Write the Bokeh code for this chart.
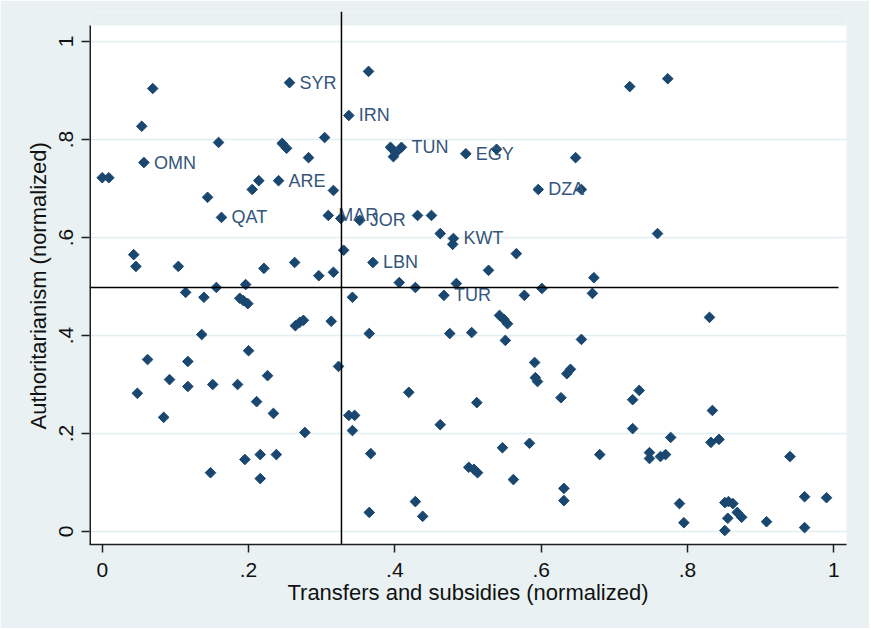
import math
from bokeh.plotting import figure
from bokeh.models import ColumnDataSource, FixedTicker, Range1d, Title
from bokeh.core.properties import value
from bokeh.embed import file_html
from bokeh.resources import INLINE

# ---------------- data ----------------
mena_code = ["OMN", "QAT", "ARE", "SYR", "IRN", "TUN", "EGY", "DZA", "MAR", "JOR", "KWT", "LBN", "TUR"]
mena_x = [0.057, 0.163, 0.241, 0.256, 0.337, 0.409, 0.497, 0.596, 0.309, 0.352, 0.480, 0.370, 0.467]
mena_y = [0.753, 0.641, 0.716, 0.916, 0.849, 0.784, 0.771, 0.698, 0.645, 0.635, 0.598, 0.549, 0.482]

other_x = [0.000, 0.009, 0.054, 0.069, 0.159, 0.144, 0.205, 0.214, 0.246, 0.252,
           0.364, 0.304, 0.282, 0.316, 0.394, 0.401, 0.398, 0.539, 0.647, 0.655,
           0.721, 0.773, 0.043, 0.046, 0.104, 0.114, 0.139, 0.156, 0.188, 0.193,
           0.199, 0.196, 0.221, 0.263, 0.326, 0.431, 0.450, 0.462, 0.479, 0.566,
           0.330, 0.296, 0.316, 0.528, 0.406, 0.428, 0.484, 0.577, 0.601, 0.342,
           0.264, 0.270, 0.275, 0.313, 0.365, 0.475, 0.505, 0.543, 0.549, 0.554,
           0.551, 0.655, 0.323, 0.591, 0.592, 0.595, 0.635, 0.640, 0.419, 0.512,
           0.627, 0.337, 0.345, 0.759, 0.672, 0.670, 0.830, 0.734, 0.725, 0.834,
           0.136, 0.062, 0.117, 0.200, 0.092, 0.117, 0.151, 0.185, 0.226, 0.048,
           0.211, 0.234, 0.084, 0.148, 0.195, 0.216, 0.238, 0.216, 0.277, 0.342,
           0.367, 0.365, 0.428, 0.438, 0.462, 0.501, 0.508, 0.513, 0.547, 0.584,
           0.562, 0.631, 0.631, 0.725, 0.680, 0.748, 0.748, 0.763, 0.770, 0.777,
           0.832, 0.843, 0.940, 0.789, 0.795, 0.851, 0.856, 0.862, 0.868, 0.874,
           0.855, 0.851, 0.908, 0.960, 0.990, 0.960]
other_y = [0.722, 0.722, 0.827, 0.904, 0.794, 0.682, 0.698, 0.716, 0.792, 0.782,
           0.939, 0.804, 0.763, 0.696, 0.784, 0.773, 0.765, 0.780, 0.763, 0.698,
           0.908, 0.924, 0.565, 0.541, 0.541, 0.488, 0.478, 0.498, 0.476, 0.471,
           0.465, 0.504, 0.537, 0.549, 0.639, 0.645, 0.645, 0.608, 0.586, 0.567,
           0.574, 0.522, 0.529, 0.533, 0.508, 0.498, 0.506, 0.482, 0.496, 0.478,
           0.420, 0.427, 0.431, 0.429, 0.404, 0.404, 0.406, 0.441, 0.433, 0.424,
           0.390, 0.392, 0.337, 0.345, 0.314, 0.306, 0.322, 0.331, 0.284, 0.263,
           0.273, 0.237, 0.237, 0.608, 0.518, 0.486, 0.437, 0.288, 0.269, 0.247,
           0.402, 0.351, 0.347, 0.369, 0.310, 0.296, 0.300, 0.300, 0.318, 0.282,
           0.265, 0.241, 0.233, 0.120, 0.147, 0.157, 0.157, 0.108, 0.202, 0.206,
           0.159, 0.039, 0.061, 0.031, 0.218, 0.131, 0.127, 0.120, 0.171, 0.180,
           0.106, 0.088, 0.063, 0.210, 0.157, 0.161, 0.149, 0.153, 0.157, 0.192,
           0.182, 0.188, 0.153, 0.057, 0.018, 0.059, 0.061, 0.057, 0.039, 0.029,
           0.027, 0.002, 0.020, 0.071, 0.069, 0.008]

x_ticks = [0.0, 0.2, 0.4, 0.6, 0.8, 1.0]
x_tick_labels = ["0", ".2", ".4", ".6", ".8", "1"]
y_ticks = [0.0, 0.2, 0.4, 0.6, 0.8, 1.0]
y_tick_labels = ["0", ".2", ".4", ".6", ".8", "1"]

x_ref_line = 0.327   # vertical reference line
y_ref_line = 0.498   # horizontal reference line

x_title = "Transfers and subsidies (normalized)"
y_title = "Authoritarianism (normalized)"

# ---------------- layout / style ----------------
X_LO, X_HI = -0.0174, 1.0173
Y_LO, Y_TOP, Y_HI = -0.0265, 1.0327, 1.0612
HLINE_END = 1.0064

BG = "#EAF1F3"
GRID = "#E4EDF0"
NAVY = "#1A476F"
LABEL_COLOR = "#34567A"
AXIS = "#1E1E1E"
TXT = "#111111"
FONT = "Liberation Sans"

p = figure(width=869, height=628,
           x_range=Range1d(X_LO, X_HI), y_range=Range1d(Y_LO, Y_HI),
           output_backend="svg", toolbar_location=None,
           min_border_left=89, min_border_right=23,
           min_border_top=11, min_border_bottom=84)
p.background_fill_color = BG
p.border_fill_color = BG
p.outline_line_color = None

# white plot region
p.quad(left=[X_LO], right=[X_HI], bottom=[Y_LO], top=[Y_TOP],
       fill_color="white", line_color=None, level="image")

# grid
p.xgrid.visible = False
p.ygrid.ticker = FixedTicker(ticks=y_ticks)
p.ygrid.grid_line_color = GRID
p.ygrid.grid_line_width = 1.5

# markers
p.scatter(other_x, other_y, marker="square", angle=math.pi / 4, size=7.5,
          fill_color=NAVY, line_color=NAVY, line_width=1)
src = ColumnDataSource(dict(x=mena_x, y=mena_y, code=mena_code))
p.scatter("x", "y", source=src, marker="square", angle=math.pi / 4, size=7.5,
          fill_color=NAVY, line_color=NAVY, line_width=1)
p.text("x", "y", text="code", source=src, x_offset=10,
       text_align="left", text_baseline="middle",
       text_font=value(FONT), text_font_size="18px", text_color=LABEL_COLOR)

# reference lines
p.segment(x0=[x_ref_line], y0=[Y_LO], x1=[x_ref_line], y1=[Y_HI],
          line_color="black", line_width=1.5)
p.segment(x0=[X_LO], y0=[y_ref_line], x1=[HLINE_END], y1=[y_ref_line],
          line_color="black", line_width=1.5)

# y axis line (only along the white region)
p.segment(x0=[X_LO], y0=[Y_LO], x1=[X_LO], y1=[Y_TOP],
          line_color=AXIS, line_width=3)

# axes
xa = p.xaxis[0]
xa.ticker = FixedTicker(ticks=x_ticks)
xa.major_label_overrides = dict(zip(x_ticks, x_tick_labels))
xa.axis_line_color = AXIS
xa.axis_line_width = 1.5
xa.major_tick_line_color = AXIS
xa.major_tick_line_width = 1.5
xa.major_tick_out = 8
xa.major_tick_in = 0
xa.minor_tick_line_color = None
xa.major_label_standoff = 10
xa.major_label_text_font = FONT
xa.major_label_text_font_size = "21px"
xa.major_label_text_color = TXT
xa.axis_label = x_title
xa.axis_label_text_font = FONT
xa.axis_label_text_font_size = "22px"
xa.axis_label_text_font_style = "normal"
xa.axis_label_text_color = TXT
xa.axis_label_standoff = 0

ya = p.yaxis[0]
ya.ticker = FixedTicker(ticks=y_ticks)
ya.major_label_overrides = dict(zip(y_ticks, y_tick_labels))
ya.axis_line_color = None
ya.major_tick_line_color = AXIS
ya.major_tick_line_width = 1.5
ya.major_tick_out = 8
ya.major_tick_in = 0
ya.minor_tick_line_color = None
ya.major_label_orientation = "vertical"
ya.major_label_standoff = 8
ya.major_label_text_font = FONT
ya.major_label_text_font_size = "21px"
ya.major_label_text_color = TXT

# y title as a left-side title, starting so that it is centred on the white region
p.add_layout(Title(text=y_title, align="left", offset=115, standoff=11,
                   text_font=FONT, text_font_size="22px", text_font_style="normal",
                   text_color=TXT), "left")

open("out.html", "w").write(file_html(p, INLINE))
